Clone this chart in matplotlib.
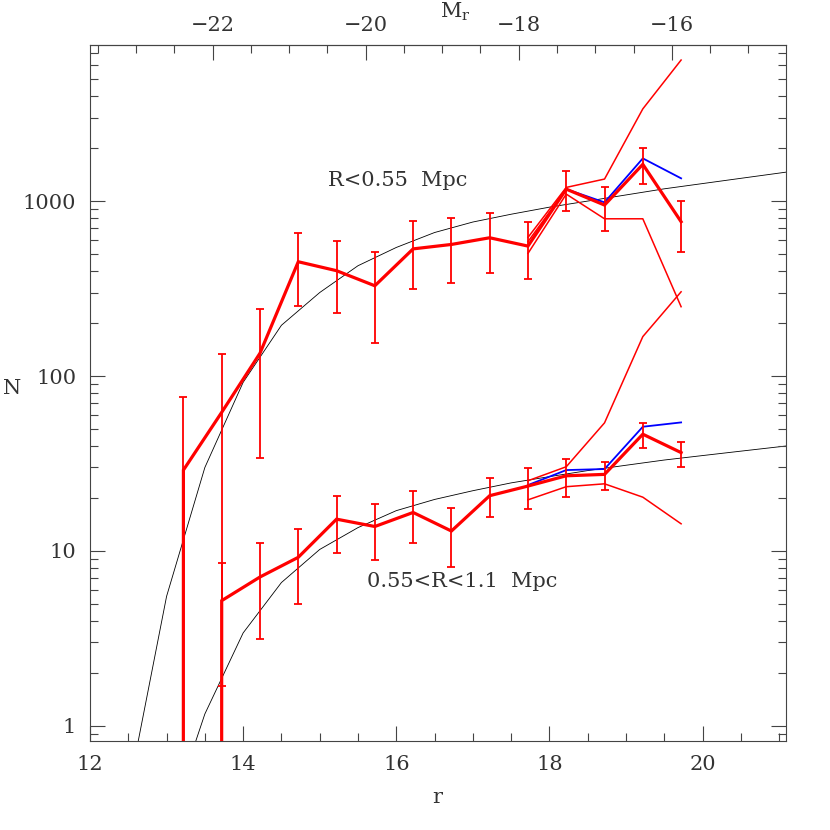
import numpy as np
import matplotlib
matplotlib.use('Agg')
import matplotlib.pyplot as plt
from matplotlib.ticker import MultipleLocator, FixedLocator, FixedFormatter, LogLocator, NullFormatter

plt.rcParams['font.family'] = ['DejaVu Serif']
plt.rcParams['mathtext.fontset'] = 'dejavuserif'

# ---------------- data ----------------
DM = 35.6  # r - M_r

r_pts = [12.72, 13.22, 13.72, 14.22, 14.72, 15.22, 15.72, 16.22,
         16.72, 17.22, 17.72, 18.22, 18.72, 19.22, 19.72]

# R < 0.55 Mpc
n_in = [0, 29, 62, 135, 450, 400, 328, 533, 565, 617, 553, 1170, 949, 1622, 762]
lo_in = [np.nan, 0, 0, 34, 251, 229, 154, 313, 341, 388, 357, 875, 676, 1245, 509]
hi_in = [np.nan, 76, 134, 241, 659, 593, 513, 769, 800, 858, 762, 1484, 1197, 2000, 1004]

# 0.55 < R < 1.1 Mpc
r_out = r_pts[1:]
n_out = [0, 5.2, 7.1, 9.2, 15.2, 13.8, 16.6, 13.0, 20.7, 23.5, 26.9, 27.4, 46.5, 36.5]
lo_out = [np.nan, 1.69, 3.14, 5.0, 9.7, 8.9, 11.1, 8.1, 15.6, 17.3, 20.4, 22.3, 38.6, 30.1]
hi_out = [np.nan, 8.5, 11.1, 13.3, 20.6, 18.5, 22.1, 17.5, 26.0, 29.7, 33.4, 32.1, 54.0, 42.2]

# variants at the faint end
r_var = [17.72, 18.22, 18.72, 19.22, 19.72]
in_var_hi = [620, 1197, 1336, 3365, 6400]
in_var_lo = [502, 1096, 792, 792, 249]
r_var_mid = [17.72, 18.22]
in_var_mid = [586, 1170]
r_blue_in = [18.22, 18.72, 19.22, 19.72]
in_blue = [1170, 983, 1754, 1349]

out_var_hi = [25.2, 30.3, 54, 168, 303]
out_var_lo = [19.6, 23.3, 24.2, 20.3, 14.3]
out_blue = [23.8, 29.0, 29.4, 51.3, 54.3]

# model curves
r_mod_in = [12.5, 13.0, 13.5, 14.0, 14.5, 15.0, 15.5, 16.0, 16.5, 17.0,
            17.5, 18.0, 18.5, 19.0, 19.5, 20.0, 20.5, 21.0, 21.5]
mod_in = [0.42, 5.5, 30, 92, 195, 300, 427, 543, 661, 759,
          841, 923, 1000, 1084, 1175, 1259, 1349, 1445, 1549]
r_mod_out = [13.0, 13.5, 14.0, 14.5, 15.0, 15.5, 16.0, 16.5, 17.0,
             17.5, 18.0, 18.5, 19.0, 19.5, 20.0, 20.5, 21.0, 21.5]
mod_out = [0.26, 1.17, 3.4, 6.6, 10.2, 13.6, 17.0, 19.7, 22.1,
           24.5, 26.6, 28.8, 30.9, 33.1, 35.1, 37.2, 39.4, 41.7]

ytick_vals = [1, 10, 100, 1000]
ytick_labels = ['1', '10', '100', '1000']
xtick_vals = [12, 14, 16, 18, 20]
mtick_vals = [-22, -20, -18, -16]
mtick_labels = ['\u221222', '\u221220', '\u221218', '\u221216']

# ---------------- figure ----------------
fig = plt.figure(figsize=(8.3, 8.3), dpi=100)
ax = fig.add_axes([90/830, 89/830, 696/830, 696/830])
ax.set_yscale('log', nonpositive='clip')
ax.set_xlim(12, 21.09)
ax.set_ylim(0.82, 7800)

red = '#ff0000'
blue = '#0000ff'
txt = '#333333'
fs = 15

ax.plot(r_mod_in, mod_in, color='black', lw=0.6, zorder=1)
ax.plot(r_mod_out, mod_out, color='black', lw=0.6, zorder=1)

for xs, ys in [(r_var, in_var_hi), (r_var, in_var_lo), (r_var_mid, in_var_mid),
               (r_var, out_var_hi), (r_var, out_var_lo)]:
    ax.plot(xs, ys, color=red, lw=1.1, zorder=2)
ax.plot(r_blue_in, in_blue, color=blue, lw=1.3, zorder=2)
ax.plot(r_var, out_blue, color=blue, lw=1.3, zorder=2)

ax.plot(r_pts, n_in, color=red, lw=2.3, zorder=3, solid_joinstyle='miter')
ax.plot(r_out, n_out, color=red, lw=2.3, zorder=3, solid_joinstyle='miter')

def ebar(xs, ys, lo, hi):
    ys = np.array(ys, float)
    lo = np.array(lo, float)
    hi = np.array(hi, float)
    ax.errorbar(xs, ys, yerr=[ys - lo, hi - ys], fmt='none', ecolor=red,
                elinewidth=1.3, capsize=2.8, capthick=1.3, zorder=4)

ebar(r_pts, n_in, lo_in, hi_in)
ebar(r_out, n_out, lo_out, hi_out)

# text
ax.text(15.11, 1318, 'R<0.55  Mpc', fontsize=fs, color=txt, va='center', ha='left')
ax.text(15.62, 6.65, '0.55<R<1.1  Mpc', fontsize=fs, color=txt, va='center', ha='left')

# ticks
tick_col = '#444444'
ax.xaxis.set_major_locator(FixedLocator(xtick_vals))
ax.xaxis.set_minor_locator(MultipleLocator(0.5))
ax.yaxis.set_major_locator(FixedLocator(ytick_vals))
ax.yaxis.set_major_formatter(FixedFormatter(ytick_labels))
ax.yaxis.set_minor_locator(LogLocator(base=10, subs=np.arange(2, 10)))
ax.yaxis.set_minor_formatter(NullFormatter())
ax.tick_params(which='both', direction='in', color=tick_col, width=0.8,
               labelsize=fs, labelcolor=txt, top=False, right=True)
ax.tick_params(which='major', length=11)
ax.tick_params(which='minor', length=5.8)
ax.tick_params(axis='x', pad=10)
ax.tick_params(axis='y', pad=10)
for s in ax.spines.values():
    s.set_color(tick_col)
    s.set_linewidth(0.8)

sec = ax.secondary_xaxis('top', functions=(lambda r: r - DM, lambda m: m + DM))
sec.xaxis.set_major_locator(FixedLocator(mtick_vals))
sec.xaxis.set_major_formatter(FixedFormatter(mtick_labels))
sec.xaxis.set_minor_locator(MultipleLocator(0.5))
sec.tick_params(which='both', direction='in', color=tick_col, width=0.8,
                labelsize=fs, labelcolor=txt, pad=7)
sec.tick_params(which='major', length=11)
sec.tick_params(which='minor', length=5.8)
sec.spines['top'].set_color(tick_col)
sec.spines['top'].set_linewidth(0.8)

ax.text(0.5245, 1.047, r'M$_{\mathrm{r}}$', transform=ax.transAxes, fontsize=fs,
        color=txt, ha='center', va='center')
ax.set_xlabel('r', fontsize=fs, color=txt)
ax.xaxis.set_label_coords(0.4986, -0.068)
ax.set_ylabel('N', fontsize=fs, color=txt, rotation=0, va='center', ha='center')
ax.yaxis.set_label_coords(-0.112, 0.507)

fig.savefig('out.png', dpi=100)
